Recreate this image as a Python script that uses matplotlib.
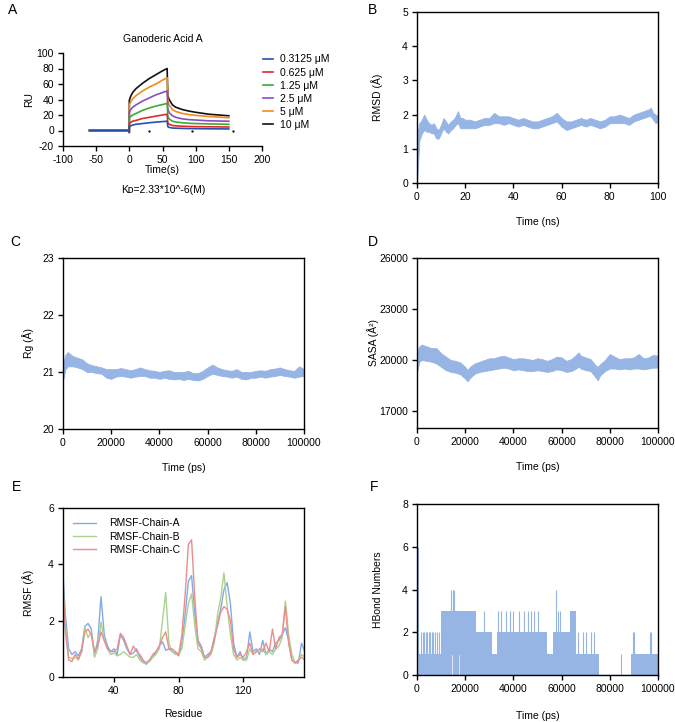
import numpy as np
import matplotlib
matplotlib.use('Agg')
import matplotlib.pyplot as plt

plt.rcParams['font.family'] = ['Liberation Sans', 'DejaVu Sans']
plt.rcParams['font.size'] = 7.5
plt.rcParams['axes.linewidth'] = 1.0
plt.rcParams['axes.unicode_minus'] = False
plt.rcParams['xtick.major.size'] = 3.5
plt.rcParams['ytick.major.size'] = 3.5

# ---- A: SPR sensorgrams ----
spr_t = [-60, -1, -0.1, 0, 2, 5, 10, 20, 30, 40, 50, 57, 58, 60, 65, 70, 80, 90, 100, 120, 150]
spr_labels = ['0.3125 μM', '0.625 μM', '1.25 μM', '2.5 μM', '5 μM', '10 μM']
spr_colors = ['#2a4db0', '#e02a2a', '#3aab35', '#8a4cc2', '#f28a1e', '#111111']
ru_0312 = [0, 0, -2.5, 5, 6, 7, 8, 9, 10, 10.8, 11.5, 12, 5, 4, 3.2, 3, 2.7, 2.5, 2.4, 2.2, 2]
ru_0625 = [0, 0, -2.5, 9, 10.5, 12, 13, 15.5, 17, 18.5, 20, 21, 10, 8, 6.5, 6, 5.5, 5.2, 5, 4.8, 4.5]
ru_125 = [0, 0, -2.5, 16, 18, 20, 22, 26, 29, 31.5, 33.5, 35, 18, 15, 12, 11, 10, 9.3, 9, 8.5, 8]
ru_25 = [0, 0, -2.5, 24, 27, 30, 33, 38, 42, 46, 49, 51, 28, 23, 19, 17, 15, 14, 13.5, 12.5, 12]
ru_5 = [0, 0, -2.5, 33, 37, 41, 45, 51, 56, 60, 65, 68, 38, 33, 27, 24.5, 22, 20.5, 19.5, 18, 16.5]
ru_10 = [0, 0, -2.5, 39, 44, 49, 54, 61, 67, 72, 77, 80, 45, 40, 33, 30, 27, 25, 23.5, 21, 19]
spr_series = [ru_0312, ru_0625, ru_125, ru_25, ru_5, ru_10]
dot_t = [29, 94, 157]
dot_y = [-1, -1, -1]

# ---- B: RMSD (ns) envelope ----
rmsd_t = [0, 1, 2, 3, 4, 5, 6, 7, 8, 9, 10, 11, 12, 13, 14, 15, 16, 17, 18, 19, 20, 22, 24, 26, 28, 30,
          32, 34, 36, 38, 40, 42, 44, 46, 48, 50, 52, 54, 56, 58, 60, 62, 64, 66, 68, 70, 72, 74, 76, 78,
          80, 82, 84, 86, 88, 90, 92, 94, 96, 97, 98, 99, 100]
rmsd_lo = [0.0, 1.25, 1.45, 1.55, 1.5, 1.5, 1.45, 1.45, 1.3, 1.3, 1.45, 1.6, 1.5, 1.45, 1.55, 1.6, 1.7,
           1.75, 1.6, 1.6, 1.6, 1.6, 1.6, 1.65, 1.7, 1.7, 1.75, 1.75, 1.7, 1.75, 1.7, 1.65, 1.7, 1.65,
           1.6, 1.6, 1.65, 1.7, 1.75, 1.8, 1.65, 1.55, 1.6, 1.65, 1.7, 1.65, 1.7, 1.65, 1.6, 1.65, 1.75,
           1.75, 1.75, 1.75, 1.7, 1.8, 1.85, 1.9, 1.95, 1.95, 1.85, 1.75, 1.8]
rmsd_hi = [1.4, 1.75, 1.85, 2.0, 1.85, 1.75, 1.7, 1.75, 1.6, 1.55, 1.7, 1.9, 1.8, 1.7, 1.8, 1.85, 1.95,
           2.1, 1.9, 1.9, 1.85, 1.85, 1.8, 1.85, 1.9, 1.9, 2.05, 1.95, 1.95, 1.95, 1.9, 1.85, 1.9, 1.85,
           1.8, 1.8, 1.85, 1.9, 1.95, 2.05, 1.9, 1.8, 1.8, 1.85, 1.9, 1.85, 1.9, 1.85, 1.8, 1.85, 1.95,
           1.95, 2.0, 1.95, 1.9, 2.0, 2.05, 2.1, 2.15, 2.2, 2.05, 2.0, 1.95]

# ---- C: Rg (ps) envelope ----
rg_t = [0, 1000, 2000] + list(range(4000, 100001, 2000))
rg_lo = [20.85, 21.05, 21.1, 21.1, 21.08, 21.05, 21.0, 21.0, 20.98, 20.97, 20.9, 20.88, 20.92, 20.93,
         20.92, 20.9, 20.92, 20.93, 20.93, 20.9, 20.9, 20.88, 20.9, 20.88, 20.87, 20.88, 20.86, 20.88,
         20.86, 20.85, 20.88, 20.93, 20.97, 20.95, 20.93, 20.92, 20.9, 20.92, 20.88, 20.87, 20.9, 20.9,
         20.92, 20.9, 20.92, 20.93, 20.95, 20.93, 20.92, 20.9, 20.92, 20.93]
rg_hi = [21.15, 21.3, 21.35, 21.28, 21.25, 21.22, 21.15, 21.12, 21.1, 21.08, 21.05, 21.05, 21.05, 21.07,
         21.05, 21.03, 21.05, 21.08, 21.05, 21.03, 21.02, 21.0, 21.02, 21.03, 21.0, 21.0, 21.0, 21.02,
         20.98, 20.98, 21.02, 21.08, 21.13, 21.08, 21.05, 21.03, 21.02, 21.05, 21.0, 21.0, 21.0, 21.02,
         21.03, 21.02, 21.05, 21.06, 21.08, 21.05, 21.03, 21.02, 21.1, 21.05]

# ---- D: SASA (ps) envelope ----
sasa_t = [0, 1000, 2000, 4000, 6000, 8000, 10000, 12000, 14000, 16000, 18000, 20000, 21000, 22000,
          24000, 26000, 28000, 30000, 32000, 34000, 36000, 38000, 40000, 42000, 44000, 46000, 48000,
          50000, 52000, 54000, 56000, 58000, 60000, 62000, 64000, 66000, 67000, 68000, 70000, 72000,
          74000, 75000, 76000, 78000, 80000, 82000, 84000, 86000, 88000, 90000, 92000, 94000, 96000,
          98000, 100000]
sasa_lo = [19300, 19900, 20000, 19950, 19900, 19800, 19600, 19400, 19300, 19250, 19150, 18900, 18750,
           18950, 19200, 19300, 19350, 19400, 19450, 19500, 19550, 19500, 19400, 19450, 19400, 19350,
           19350, 19400, 19350, 19300, 19350, 19450, 19400, 19300, 19350, 19500, 19600, 19500, 19400,
           19350, 19000, 18800, 19100, 19350, 19500, 19500, 19450, 19500, 19450, 19500, 19500, 19450,
           19500, 19550, 19550]
sasa_hi = [20500, 20800, 20900, 20800, 20700, 20700, 20400, 20200, 20000, 19950, 19850, 19600, 19400,
           19600, 19800, 19900, 20000, 20100, 20100, 20200, 20250, 20150, 20050, 20100, 20100, 20050,
           20000, 20100, 20050, 19950, 20050, 20200, 20150, 19950, 20050, 20300, 20450, 20250, 20150,
           20050, 19700, 19600, 19750, 20000, 20350, 20200, 20050, 20100, 20100, 20150, 20350, 20100,
           20150, 20300, 20250]

# ---- E: RMSF per residue ----
residue = np.arange(8, 159, 2)
rmsf_a = [4.1, 2.2, 1.0, 0.8, 0.9, 0.75, 1.0, 1.8, 1.9, 1.7,
          0.8, 1.3, 2.85, 1.5, 1.1, 0.9, 1.0, 0.8, 1.5, 1.3,
          1.0, 0.8, 0.85, 1.0, 0.7, 0.55, 0.45, 0.6, 0.7, 0.9,
          1.1, 1.25, 0.95, 1.0, 0.9, 0.85, 0.75, 1.2, 2.2, 3.4,
          3.6, 2.2, 1.3, 1.1, 0.7, 0.8, 0.9, 1.4, 1.9, 2.4,
          3.1, 3.35, 2.6, 1.2, 0.7, 0.9, 0.6, 0.7, 1.6, 0.9,
          1.0, 0.8, 1.3, 0.8, 1.0, 0.9, 1.2, 1.3, 1.5, 1.75,
          1.3, 0.6, 0.5, 0.5, 1.2, 0.9]
rmsf_b = [3.8, 1.8, 0.7, 0.65, 0.7, 0.6, 0.9, 1.75, 1.4, 1.6,
          0.7, 1.0, 1.95, 1.3, 1.0, 0.8, 0.85, 0.75, 0.8, 0.9,
          0.8, 0.7, 0.7, 0.8, 0.6, 0.5, 0.5, 0.55, 0.7, 0.8,
          1.0, 2.0, 3.0, 1.2, 0.9, 0.8, 0.8, 1.0, 1.8, 2.6,
          2.95, 1.8, 1.0, 0.9, 0.6, 0.7, 0.8, 1.2, 2.2, 2.8,
          3.7, 2.5, 1.5, 0.8, 0.6, 0.7, 0.6, 0.6, 1.0, 0.8,
          0.9, 0.9, 1.0, 0.8, 0.9, 0.8, 1.0, 1.1, 1.4, 2.7,
          1.5, 0.8, 0.5, 0.6, 0.8, 0.7]
rmsf_c = [3.6, 1.6, 0.6, 0.55, 0.8, 0.65, 0.9, 1.6, 1.7, 1.5,
          0.9, 1.1, 1.6, 1.3, 1.0, 0.9, 0.9, 1.0, 1.55, 1.4,
          1.1, 0.8, 1.1, 0.9, 0.8, 0.6, 0.5, 0.6, 0.8, 0.9,
          1.1, 1.4, 1.6, 1.0, 1.0, 0.9, 0.8, 1.5, 2.9, 4.7,
          4.87, 2.8, 1.2, 1.0, 0.7, 0.7, 0.9, 1.3, 1.8, 2.3,
          2.5, 2.4, 2.0, 1.0, 0.7, 0.8, 0.7, 0.9, 1.2, 0.8,
          0.9, 1.0, 0.9, 1.2, 0.9, 1.7, 1.0, 1.4, 1.5, 2.5,
          1.2, 0.6, 0.5, 0.6, 0.7, 0.6]

# ---- F: HBond numbers (min/max per window + isolated spikes) ----
hb_t = [0, 1000, 10000, 14000, 15600, 17000, 17700, 19000, 19500, 24500, 31000, 33000, 51000, 54000,
        54300, 56500, 58500, 63500, 65800, 75500, 89000, 100000]
hb_lo = [0, 0, 0, 1, 0, 1, 0, 1, 0, 0, 0, 0, 0, 1, 0, 0, 0, 0, 0, 0, 0, 0]
hb_hi = [1, 1, 3, 3, 3, 3, 3, 3, 3, 2, 1, 2, 2, 1, 1, 2, 2, 3, 1, 0, 1, 1]
spike_t = [300, 1500, 2300, 3000, 3700, 4300, 5000, 5600, 6200, 6800, 7500, 8200, 9000, 14000, 14800,
           15300, 27800, 33500, 35000, 37000, 38500, 40000, 42500, 44500, 46000, 47200, 48500, 50200,
           57600, 58600, 59200, 67000, 69000, 70200, 72000, 73600, 84500, 89600, 90000, 96500, 97300]
spike_v = [6, 2, 2, 2, 2, 2, 2, 2, 2, 2, 2, 2, 2, 4, 4, 4, 3, 3, 3, 3, 3, 3, 3, 3, 3, 3, 3, 3,
           4, 3, 3, 2, 2, 2, 2, 2, 1, 2, 2, 2, 2]

md_color = '#96b4e4'
W, H = 675, 722
FS = 7.5


def box(l, t, r, b):
    return [l / W, 1 - b / H, (r - l) / W, (b - t) / H]


fig = plt.figure(figsize=(6.75, 7.22), dpi=100)

# A
axA = fig.add_axes(box(63, 53, 262, 146))
lines = []
for vals, c, lab in list(zip(spr_series, spr_colors, spr_labels))[::-1]:
    ln, = axA.plot(spr_t, vals, color=c, lw=1.2, label=lab)
    lines.append(ln)
axA.scatter(dot_t, dot_y, s=0.4, color='k')
axA.set_xlim(-100, 200)
axA.set_ylim(-20, 100)
axA.set_xticks(range(-100, 201, 50))
axA.set_yticks(range(-20, 101, 20))
axA.spines['top'].set_visible(False)
axA.spines['right'].set_visible(False)
axA.set_title('Ganoderic Acid A', fontsize=FS, pad=8)
axA.set_xlabel('Time(s)', labelpad=0, fontsize=FS)
axA.set_ylabel('RU', labelpad=2, fontsize=FS)
axA.legend(lines[::-1], spr_labels, loc='upper left', bbox_to_anchor=(0.96, 1.085), frameon=False,
           handlelength=0.9, handletextpad=0.7, labelspacing=0.3, fontsize=FS)
fig.text(163 / W, 1 - 190 / H, 'Kᴅ=2.33*10^-6(M)', ha='center', va='center', fontsize=FS)

# B
axB = fig.add_axes(box(417, 12, 658, 183))
axB.fill_between(rmsd_t, rmsd_lo, rmsd_hi, color=md_color, lw=0.6, edgecolor=md_color)
axB.set_xlim(0, 100)
axB.set_ylim(0, 5)
axB.set_xticks(range(0, 101, 20))
axB.set_xlabel('Time (ns)', labelpad=11, fontsize=FS)
axB.set_ylabel('RMSD (Å)', labelpad=14, fontsize=FS)

# C
axC = fig.add_axes(box(63, 258, 304, 429))
axC.fill_between(rg_t, rg_lo, rg_hi, color=md_color, lw=0.6, edgecolor=md_color)
axC.set_xlim(0, 100000)
axC.set_ylim(20, 23)
axC.set_xticks(range(0, 100001, 20000))
axC.set_yticks([20, 21, 22, 23])
axC.set_xlabel('Time (ps)', labelpad=11, fontsize=FS)
axC.set_ylabel('Rg (Å)', labelpad=6, fontsize=FS)

# D
axD = fig.add_axes(box(417, 258, 658, 428))
axD.fill_between(sasa_t, sasa_lo, sasa_hi, color=md_color, lw=0.6, edgecolor=md_color)
axD.set_xlim(0, 100000)
axD.set_ylim(16000, 26000)
axD.set_xticks(range(0, 100001, 20000))
axD.set_yticks([17000, 20000, 23000, 26000])
axD.set_xlabel('Time (ps)', labelpad=11, fontsize=FS)
axD.set_ylabel('SASA (Å²)', labelpad=0, fontsize=FS)

# E
axE = fig.add_axes(box(63, 508, 304, 677))
axE.plot(residue, rmsf_a, color='#86a9e6', lw=1.0, label='RMSF-Chain-A')
axE.plot(residue, rmsf_b, color='#a9d28c', lw=1.0, label='RMSF-Chain-B')
axE.plot(residue, rmsf_c, color='#ee8c8c', lw=1.0, label='RMSF-Chain-C')
axE.set_xlim(8.5, 157.5)
axE.set_ylim(0, 6)
axE.set_xticks([40, 80, 120])
axE.set_yticks([0, 2, 4, 6])
axE.set_xlabel('Residue', labelpad=9, fontsize=FS)
axE.set_ylabel('RMSF (Å)', labelpad=10, fontsize=FS)
axE.legend(loc='upper left', frameon=False, handlelength=2.2, handletextpad=1.2, labelspacing=0.3,
           fontsize=FS, borderaxespad=0.6)

# F
axF = fig.add_axes(box(417, 504, 658, 675))
axF.fill_between(hb_t, hb_lo, hb_hi, step='post', color=md_color, lw=0)
axF.step(hb_t, hb_lo, where='post', color=md_color, lw=1.0)
axF.vlines(spike_t, 0, spike_v, color=md_color, lw=0.8)
axF.set_xlim(0, 100000)
axF.set_ylim(0, 8)
axF.set_xticks(range(0, 100001, 20000))
axF.set_yticks(range(0, 9, 2))
axF.set_xlabel('Time (ps)', labelpad=12, fontsize=FS)
axF.set_ylabel('HBond Numbers', labelpad=14, fontsize=FS)

for ax in [axA, axB, axC, axD, axE, axF]:
    ax.tick_params(labelsize=FS, width=1.0, pad=3)

for lab, x, y in [('A', 8, 10), ('B', 368, 10), ('C', 10, 242), ('D', 368, 242), ('E', 12, 487), ('F', 370, 487)]:
    fig.text(x / W, 1 - y / H, lab, fontsize=10, ha='left', va='center')

fig.savefig('out.png', dpi=100)
